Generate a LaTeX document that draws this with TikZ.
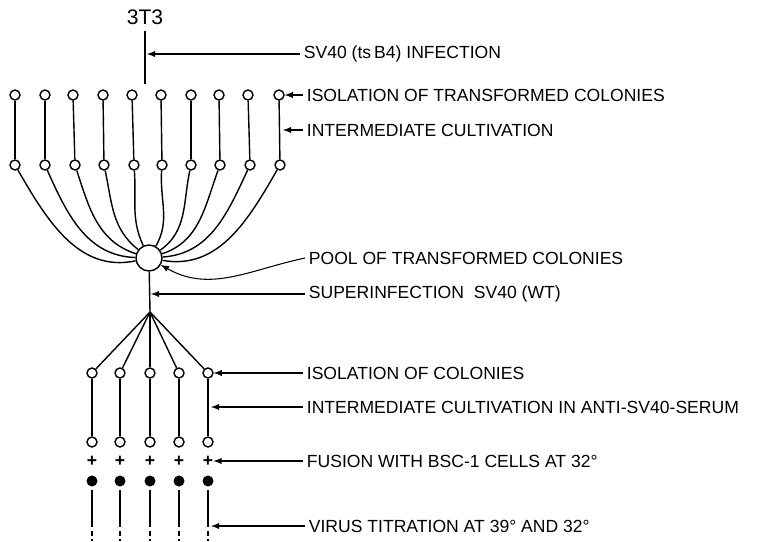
\documentclass[tikz,border=0pt]{standalone}
\usepackage{fontspec}
\setmainfont{Liberation Sans}
\usetikzlibrary{calc}

\begin{document}
\begin{tikzpicture}[x=0.02cm, y=0.02cm, >=latex, every node/.style={font=\fontsize{10}{12}\selectfont}]
    \tikzset{
      colony/.style={circle, draw, thick, inner sep=0pt, minimum size=0.2cm},
      plated/.style={circle, fill, inner sep=0pt, minimum size=0.22cm},
      steptext/.style={anchor=west, inner xsep=2pt, inner ysep=0pt},
      leader/.style={->, semithick}
    }
    \useasboundingbox (0,0) rectangle (767,-541);

    % Starting cell line
    \node (cell) at (145,-17) {\fontsize{12}{14}\selectfont 3T3};
    \coordinate (infect) at (145,-84);
    \draw[thick] (cell) -- (infect);

    % First isolation, ten transformed colonies
    \foreach \i/\xa/\xb in {1/15/15, 2/45/45, 3/73/75, 4/103/104, 5/132/134,
                            6/161/162, 7/191/191, 8/219/220, 9/248/250, 10/279/280} {
      \node[colony] (t\i) at (\xa,-95) {};
      \node[colony] (m\i) at (\xb,-165) {};
      \draw[thick] (t\i) -- (m\i);
    }

    % Pool of transformed colonies
    \node[circle, draw, thick, inner sep=0pt, minimum size=0.52cm] (pool) at (149,-258) {};
    \foreach \i/\ao/\ai in {1/-60/192, 2/-66/178, 3/-72/162, 4/-78/142, 5/-86/115,
                            6/-94/60, 7/-102/35, 8/-110/18, 9/-115/4, 10/-120/-10}
      \draw[thick] (m\i) to[out=\ao, in=\ai] (pool);

    % Superinfection and second isolation
    \coordinate (branch) at (150,-312);
    \draw[thick] (pool) -- (branch);
    \foreach \i/\x in {1/92, 2/120, 3/150, 4/179, 5/208} {
      \node[colony] (c\i) at (\x,-373) {};
      \node[colony] (d\i) at (\x,-442) {};
      \node[inner sep=0pt, font=\bfseries] (p\i) at (\x,-461) {+};
      \node[plated] (f\i) at (\x,-481) {};
      \coordinate (e\i) at (\x,-541);
      \draw[thick] (branch) -- (c\i);
      \draw[thick] (c\i) -- (d\i);
      \draw[thick, dash pattern=on 21pt off 2pt on 3pt off 1.5pt on 4pt] ([yshift=-2pt]f\i.south) -- (e\i);
    }

    % Step labels
    \coordinate (xinf) at (147,-54);
    \node[steptext] (linf) at (300,-54) {SV40 (ts\,B4) INFECTION};
    \draw[leader] (linf) -- (xinf);

    \node[steptext] (liso1) at (303,-95) {ISOLATION OF TRANSFORMED COLONIES};
    \draw[leader] (liso1) -- (t10);

    \coordinate (xcult1) at (283,-130);
    \node[steptext] (lcult1) at (303,-130) {INTERMEDIATE CULTIVATION};
    \draw[leader] (lcult1) -- (xcult1);

    \node[steptext] (lpool) at (305,-258) {POOL OF TRANSFORMED COLONIES};
    \draw[leader] (lpool.west) to[out=192, in=-30] (pool);

    \coordinate (xsuper) at (151,-294);
    \node[steptext] (lsuper) at (305,-294) {SUPERINFECTION\ \ SV40 (WT)};
    \draw[leader] (lsuper) -- (xsuper);

    \node[steptext] (liso2) at (303,-373) {ISOLATION OF COLONIES};
    \draw[leader] (liso2) -- (c5);

    \coordinate (xcult2) at (211,-407);
    \node[steptext] (lcult2) at (303,-407) {INTERMEDIATE CULTIVATION IN ANTI-SV40-SERUM};
    \draw[leader] (lcult2) -- (xcult2);

    \node[steptext] (lfus) at (303,-461) {FUSION WITH BSC-1 CELLS AT 32°};
    \draw[leader] (lfus) -- (p5);

    \coordinate (xtit) at (211,-526);
    \node[steptext] (ltit) at (305,-526) {VIRUS TITRATION AT 39° AND 32°};
    \draw[leader] (ltit) -- (xtit);
\end{tikzpicture}
\end{document}
